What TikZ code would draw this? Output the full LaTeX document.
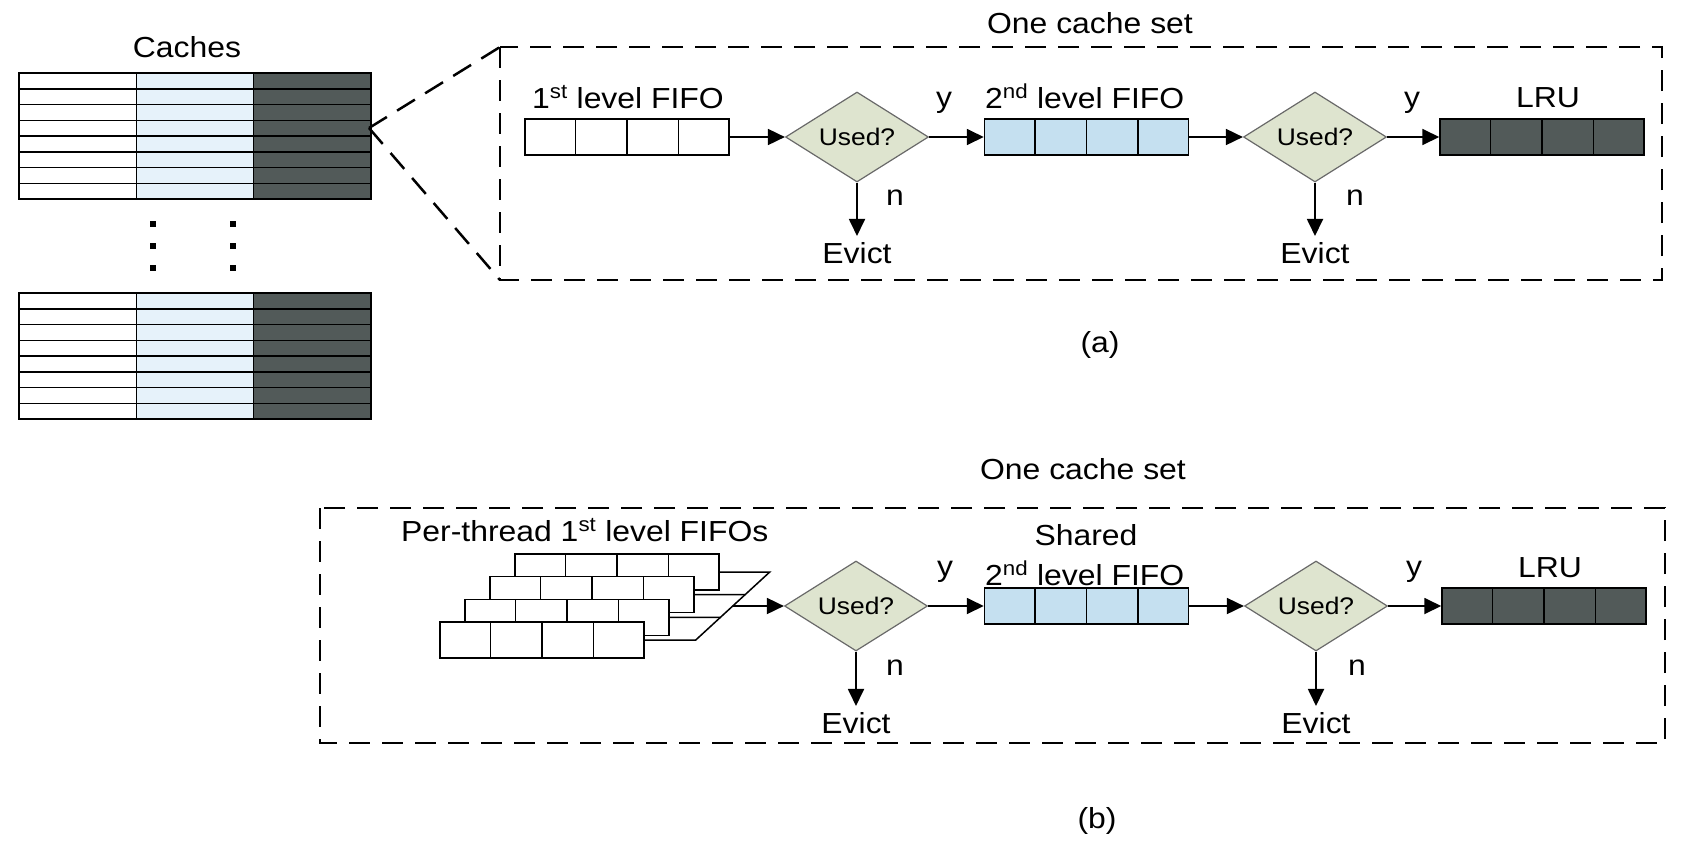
\documentclass[tikz,border=0pt]{standalone}
\usepackage{fontspec}
\setmainfont{Liberation Sans}[FakeStretch=1.1]
\usetikzlibrary{calc, shapes.geometric, arrows.meta}

\definecolor{cachelight}{RGB}{230,242,250}
\definecolor{fifoblue}{RGB}{197,224,240}
\definecolor{lrugray}{RGB}{82,90,89}
\definecolor{usedfill}{RGB}{222,228,207}
\definecolor{usedline}{RGB}{105,105,105}

\tikzset{
	txt/.style = {inner sep=0pt, font=\fontsize{29}{34}\selectfont},
	evict/.style = {txt, outer sep=6pt},
	fifo/.style = {draw, line width=1.5pt, minimum width=204pt, minimum height=36pt, inner sep=0pt},
	used/.style = {diamond, draw=usedline, fill=usedfill, line width=1.2pt, aspect=1.6,
		minimum width=143pt, minimum height=90pt, inner sep=0pt, font=\fontsize{24}{28}\selectfont},
	arr/.style = {line width=1.8pt, -{Triangle[length=17pt, width=16pt]}},
	setbox/.style = {line width=2.5pt, dash pattern=on 21pt off 12pt},
	cell/.style = {draw, line width=1.5pt}
}

\begin{document}
\begin{tikzpicture}[x=1pt, y=-1pt]
	\def\ya{137};
	\def\yb{606};
	\def\cw{117.33};
	\def\ch{15.75};

	\useasboundingbox (0,0) rectangle (1706,844);

	% caches
	\node[txt, anchor=base] (caches) at (187,57) {Caches};
	\foreach \top in {73,293}
		\foreach \col [count=\c from 0] in {white, cachelight, lrugray}
			\foreach \r in {0,...,7}
				\draw[cell, fill=\col] ({19+\c*\cw},{\top+\r*\ch}) rectangle ++(\cw,\ch);
	\foreach \x in {153,233}
		\foreach \y in {224,246,268}
			\fill (\x-3,\y-3) rectangle ++(6,6);

	% (a)
	\coordinate (zsrc) at (369,128);
	\coordinate (boxa) at (500,47);
	\coordinate (boxa2) at (1662,280);
	\draw[setbox] (boxa) rectangle (boxa2);
	\draw[setbox] (zsrc) -- (boxa);
	\draw[setbox] (zsrc) -- (boxa |- boxa2);
	\node[txt, anchor=base] (seta) at (1090,33) {One cache set};

	\node[fifo, fill=white] (fa1) at (627,\ya) {};
	\node[used] (ua1) at (857,\ya) {Used?};
	\node[fifo, fill=fifoblue] (fa2) at (1086.5,\ya) {};
	\node[used] (ua2) at (1315,\ya) {Used?};
	\node[fifo, fill=lrugray] (lrua) at (1542,\ya) {};
	\foreach \f in {fa1, fa2, lrua}
		\foreach \k in {1,2,3}
			\draw[line width=1.5pt] ($(\f.south west)!\k/4!(\f.south east)$) -- ($(\f.north west)!\k/4!(\f.north east)$);

	\node[txt, anchor=base west] (fa1lbl) at (532,108) {1\textsuperscript{st} level FIFO};
	\node[txt, anchor=base west] (fa2lbl) at (985,108) {2\textsuperscript{nd} level FIFO};
	\node[txt, anchor=base] (lrualbl) at (1548,107) {LRU};
	\node[txt, anchor=base] (ya1) at (944,107) {y};
	\node[txt, anchor=base] (ya2) at (1412,107) {y};
	\node[txt, anchor=base] (na1) at (895,205) {n};
	\node[txt, anchor=base] (na2) at (1355,205) {n};
	\node[evict, anchor=base] (eva1) at (857,263) {Evict};
	\node[evict, anchor=base] (eva2) at (1315,263) {Evict};

	\draw[arr] (fa1) -- (ua1);
	\draw[arr] (ua1) -- (fa2);
	\draw[arr] (fa2) -- (ua2);
	\draw[arr] (ua2) -- (lrua);
	\draw[arr] (ua1.south) -- (eva1.north);
	\draw[arr] (ua2.south) -- (eva2.north);

	\node[txt, anchor=base] (capa) at (1100,352) {(a)};

	% (b)
	\coordinate (boxb) at (320,508);
	\coordinate (boxb2) at (1665,743);
	\draw[setbox] (boxb) rectangle (boxb2);
	\node[txt, anchor=base] (setb) at (1083,479) {One cache set};

	\foreach \i in {0,...,3} {
		\node[fifo, fill=white] (p\i) at ({617-25*\i},{\yb-34+68*\i/3}) {};
		\foreach \k in {1,2,3}
			\draw[line width=1.5pt] ($(p\i.south west)!\k/4!(p\i.south east)$) -- ($(p\i.north west)!\k/4!(p\i.north east)$);
	}
	\coordinate (fan1) at ($(p0.east)+(50,0)$);
	\coordinate (fan2) at ($(p3.east)+(51,0)$);
	\draw[line width=1.5pt] (p0.east) -- (fan1) -- (fan2) -- (p3.east);
	\draw[line width=1.5pt] (p1.east) -- ($(fan1)!1/3!(fan2)$);
	\draw[line width=1.5pt] (p2.east) -- ($(fan1)!2/3!(fan2)$);

	\node[used] (ub1) at (856,\yb) {Used?};
	\node[fifo, fill=fifoblue] (fb2) at (1086.5,\yb) {};
	\node[used] (ub2) at (1316,\yb) {Used?};
	\node[fifo, fill=lrugray] (lrub) at (1544,\yb) {};
	\foreach \f in {fb2, lrub}
		\foreach \k in {1,2,3}
			\draw[line width=1.5pt] ($(\f.south west)!\k/4!(\f.south east)$) -- ($(\f.north west)!\k/4!(\f.north east)$);

	\node[txt, anchor=base west] (ptlbl) at (401,541) {Per-thread 1\textsuperscript{st} level FIFOs};
	\node[txt, anchor=base] (shlbl) at (1086,545) {Shared};
	\node[txt, anchor=base west] (fb2lbl) at (985,585) {2\textsuperscript{nd} level FIFO};
	\node[txt, anchor=base] (lrublbl) at (1550,577) {LRU};
	\node[txt, anchor=base] (yb1) at (945,576) {y};
	\node[txt, anchor=base] (yb2) at (1414,576) {y};
	\node[txt, anchor=base] (nb1) at (895,675) {n};
	\node[txt, anchor=base] (nb2) at (1357,675) {n};
	\node[evict, anchor=base] (evb1) at (856,733) {Evict};
	\node[evict, anchor=base] (evb2) at (1316,733) {Evict};

	\draw[arr] ($(fan1)!.5!(fan2)$) -- (ub1);
	\draw[arr] (ub1) -- (fb2);
	\draw[arr] (fb2) -- (ub2);
	\draw[arr] (ub2) -- (lrub);
	\draw[arr] (ub1.south) -- (evb1.north);
	\draw[arr] (ub2.south) -- (evb2.north);

	\node[txt, anchor=base] (capb) at (1097,828) {(b)};
\end{tikzpicture}
\end{document}
